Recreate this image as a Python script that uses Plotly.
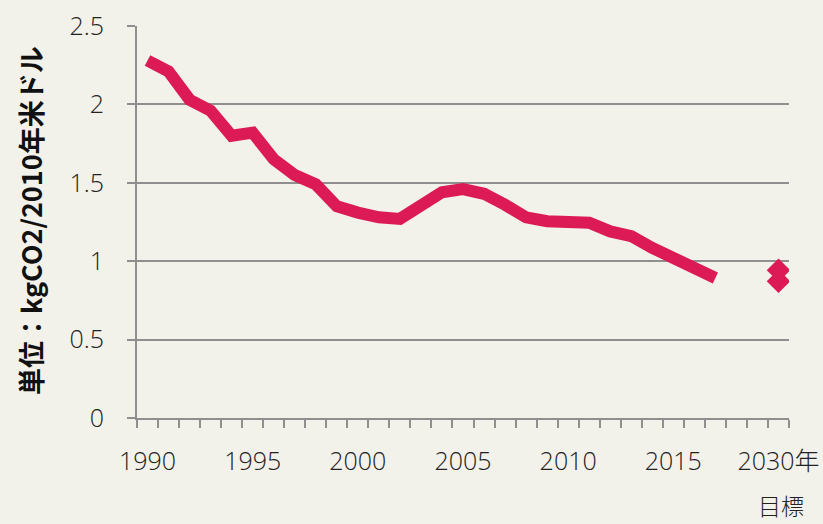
import plotly.graph_objects as go

years = [str(y) for y in range(1990, 2018)]
intensity = [2.28, 2.21, 2.03, 1.96, 1.80, 1.82, 1.65, 1.55, 1.49, 1.35,
             1.31, 1.28, 1.27, 1.35, 1.44, 1.46, 1.43, 1.36, 1.28, 1.255,
             1.245, 1.245, 1.19, 1.16, 1.085, 1.015, 0.957, 0.893]
blank_categories = ["2018", "2019"]
target_category = "2030年"
target_values = [0.942, 0.872]
categories = years + blank_categories + [target_category]
labelled = {"1990", "1995", "2000", "2005", "2010", "2015", "2030年"}
tick_text = [c if c in labelled else "" for c in categories]

RED = "#DC1A55"
BG = "#F2F1EA"
GRID = "#8F8F8F"
FONT = "Open Sans, Noto Sans CJK JP, sans-serif"
TICKFONT = dict(family=FONT, size=25, color="#222222", weight=300)

fig = go.Figure()
fig.add_trace(go.Scatter(x=years, y=intensity, mode="lines",
                         line=dict(color=RED, width=12), showlegend=False))
fig.add_trace(go.Scatter(x=[target_category] * len(target_values), y=target_values,
                         mode="markers",
                         marker=dict(symbol="diamond", size=18, color=RED),
                         showlegend=False))

fig.update_layout(
    width=823, height=524,
    paper_bgcolor=BG, plot_bgcolor=BG,
    margin=dict(l=137, r=34, t=26, b=106, autoexpand=False),
    font=dict(family=FONT, size=25, color="#222222"),
    xaxis=dict(type="category", categoryorder="array", categoryarray=categories,
               range=[-0.5, len(categories) - 0.5], automargin=False,
               tickmode="array", tickvals=categories, ticktext=tick_text,
               tickangle=0,
               tickson="boundaries", ticks="outside", ticklen=8, tickwidth=2,
               tickcolor=GRID, showline=True, linecolor=GRID, linewidth=2,
               showgrid=False, zeroline=False, ticklabelstandoff=20,
               tickfont=TICKFONT),
    yaxis=dict(range=[0, 2.5], tickmode="linear", tick0=0, dtick=0.5,
               automargin=False,
               showgrid=True, gridcolor=GRID, gridwidth=2,
               showline=True, linecolor=GRID, linewidth=2,
               ticks="outside", ticklen=8, tickwidth=2, tickcolor=GRID,
               zeroline=False, ticklabelstandoff=18,
               tickfont=TICKFONT),
    annotations=[
        dict(text="<b>単位：kgCO2/2010年米ドル</b>", xref="paper", yref="paper",
             x=(30 - 137) / 652, y=(418 - 221) / 392, xanchor="center", yanchor="middle",
             textangle=-90, showarrow=False,
             font=dict(family="Noto Sans CJK JP, sans-serif", size=27, color="#111111")),
        dict(text="目標", xref="x", yref="paper", x=target_category,
             y=-(505 - 418) / 392, xanchor="center", yanchor="middle",
             xshift=3, showarrow=False,
             font=dict(family="Noto Sans CJK JP, sans-serif", size=23, color="#222222",
                       weight=300)),
    ],
)

fig.write_html("out.html", config={"displayModeBar": False},
               post_script="document.body.style.margin='0';")
